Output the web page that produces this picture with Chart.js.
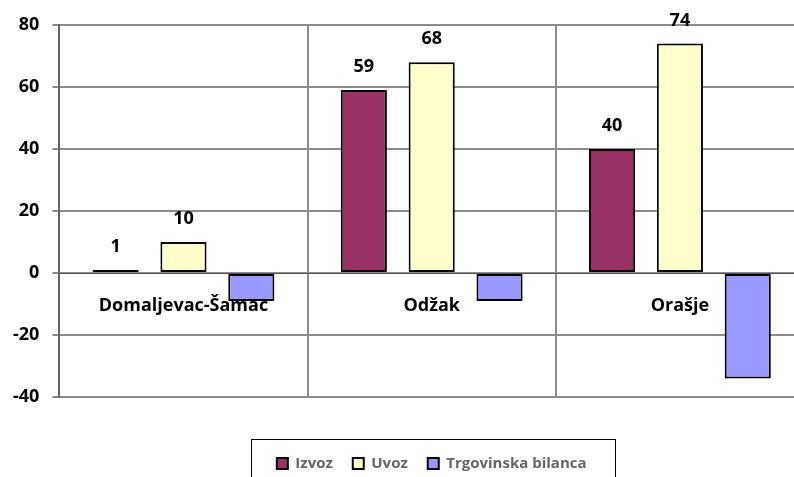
<!DOCTYPE html>
<html>
<head>
<meta charset="utf-8">
<script src="https://cdn.jsdelivr.net/npm/chart.js@4/dist/chart.umd.min.js"></script>
<style>
  body { margin: 0; background: #fff; }
  #wrap { width: 794px; height: 477px; overflow: hidden; position: relative; }
</style>
</head>
<body>
<div id="wrap"><canvas id="chart" width="860" height="481"></canvas></div>
<script>
// data
const places = ['Domaljevac-Šamac', 'Odžak', 'Orašje'];
const izvoz = [1, 59, 40];
const uvoz = [10, 68, 74];
const bilanca = [-9, -9, -34];

const FONT = 'Open Sans';

// value labels over the positive bars
const valueLabels = {
    id: 'valueLabels',
    afterDatasetsDraw(chart) {
        const ctx = chart.ctx;
        ctx.save();
        ctx.font = 'bold 18px ' + FONT;
        ctx.fillStyle = '#000';
        ctx.textAlign = 'center';
        ctx.textBaseline = 'middle';
        chart.data.datasets.forEach((ds, i) => {
            chart.getDatasetMeta(i).data.forEach((bar, j) => {
                if (ds.data[j] > 0) ctx.fillText(ds.data[j], bar.x, bar.y - 23);
            });
        });
        ctx.restore();
    }
};

// frame round the legend
const legendFrame = {
    id: 'legendFrame',
    afterDraw(chart) {
        const boxes = chart.legend.legendHitBoxes;
        if (!boxes.length) return;
        const left = Math.min(...boxes.map(b => b.left)) - 26;
        const right = Math.max(...boxes.map(b => b.left + b.width)) + 28;
        const top = Math.round(boxes[0].top + boxes[0].height / 2) - 25;
        const ctx = chart.ctx;
        ctx.save();
        ctx.strokeStyle = '#000';
        ctx.lineWidth = 1;
        ctx.strokeRect(Math.round(left) + 0.5, top + 0.5, Math.round(right - left), 80);
        ctx.restore();
    }
};

new Chart(document.getElementById('chart'), {
    type: 'bar',
    data: {
        labels: places,
        datasets: [
            { label: 'Izvoz', data: izvoz, backgroundColor: '#993366' },
            { label: 'Uvoz', data: uvoz, backgroundColor: '#FFFFCC' },
            { label: 'Trgovinska bilanca', data: bilanca, backgroundColor: '#9999FF' }
        ]
    },
    options: {
        responsive: false,
        animation: false,
        devicePixelRatio: 1,
        layout: { padding: { top: 25, left: 0, right: 56, bottom: 0 } },
        datasets: {
            bar: {
                borderColor: '#000',
                borderWidth: 2,
                borderSkipped: false,
                categoryPercentage: 0.82,
                barPercentage: 0.68
            }
        },
        scales: {
            x: {
                position: { y: 0 },
                grid: { color: '#8c8c8c', lineWidth: 2, drawTicks: false, offset: true },
                border: { color: '#555', width: 1 },
                ticks: {
                    padding: 22,
                    color: '#000',
                    font: { family: FONT, size: 18, weight: 'bold' }
                }
            },
            y: {
                min: -40,
                max: 80,
                ticks: {
                    stepSize: 20,
                    padding: 13,
                    color: '#000',
                    font: { family: FONT, size: 18, weight: 'bold' }
                },
                grid: {
                    color: '#8c8c8c',
                    lineWidth: 2,
                    tickLength: 7
                },
                border: { color: '#666', width: 2 }
            }
        },
        plugins: {
            legend: {
                position: 'bottom',
                fullSize: false,
                title: {
                    display: true,
                    text: ' ',
                    font: { size: 10 },
                    padding: { top: 0, bottom: 27 }
                },
                labels: {
                    boxWidth: 11,
                    boxHeight: 11,
                    padding: 20,
                    color: '#000',
                    font: { family: FONT, size: 15, weight: 'bold' },
                    generateLabels(chart) {
                        return chart.data.datasets.map((ds, i) => ({
                            text: ds.label,
                            fillStyle: ds.backgroundColor,
                            strokeStyle: '#000',
                            lineWidth: 2,
                            datasetIndex: i
                        }));
                    }
                }
            },
            tooltip: { enabled: false }
        }
    },
    plugins: [valueLabels, legendFrame]
});
</script>
</body>
</html>
